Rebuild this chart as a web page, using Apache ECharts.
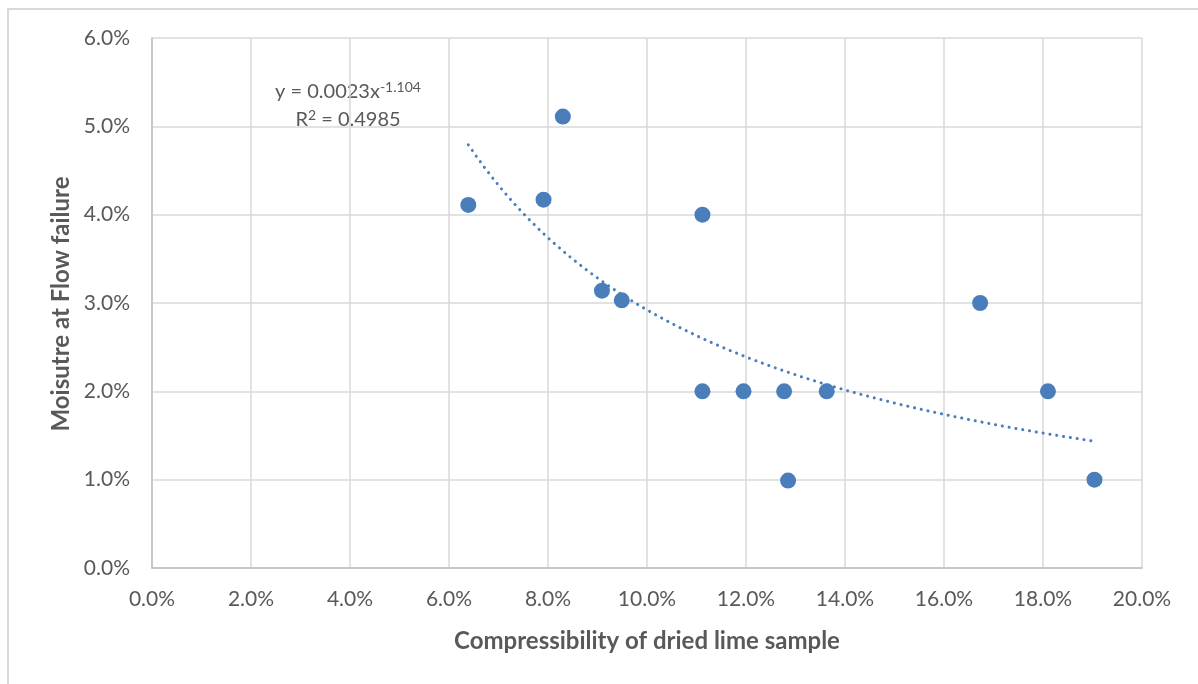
<!DOCTYPE html>
<html>
<head>
<meta charset="utf-8">
<script src="https://cdn.jsdelivr.net/npm/echarts@6/dist/echarts.min.js"></script>
<style>
html,body{margin:0;padding:0;background:#fff;}
#chart{width:1198px;height:684px;}
</style>
</head>
<body>
<div id="chart"></div>
<script>
// Data (percent units)
const compressibility = [6.39, 7.91, 8.30, 9.09, 9.49, 11.12, 11.12, 11.95, 12.77, 12.85, 13.63, 16.73, 18.10, 19.04];
const moisture        = [4.11, 4.17, 5.11, 3.14, 3.03, 4.00, 2.00, 2.00, 2.00, 0.99, 2.00, 3.00, 2.00, 1.00];
const xTicks = [0, 2, 4, 6, 8, 10, 12, 14, 16, 18, 20];
const yTicks = [0, 1, 2, 3, 4, 5, 6];
const xTitle = 'Compressibility of dried lime sample';
const yTitle = 'Moisutre at Flow failure';
const trendCoef = 0.0023;   // from chart's trendline equation
const trendExp = -1.104;
const trendText = ['y = 0.0023x', '-1.104', 'R', '2', ' = 0.4985'];

const points = compressibility.map((x, i) => [x, moisture[i]]);
const xMin = Math.min(...compressibility), xMax = Math.max(...compressibility);
const trend = [];
const N = 80;
for (let i = 0; i <= N; i++) {
  const x = xMin + (xMax - xMin) * i / N;
  trend.push([x, trendCoef * Math.pow(x / 100, trendExp) * 100]);
}

const FONT = 'Lato';
const GREY = '#595959';
const BLUE = '#4A7EBB';

const chart = echarts.init(document.getElementById('chart'), null, {renderer: 'canvas'});
chart.setOption({
  backgroundColor: '#fff',
  animation: false,
  textStyle: {fontFamily: FONT},
  grid: {left: 152, right: 56, top: 38, bottom: 116, containLabel: false},
  xAxis: {
    type: 'value', min: xTicks[0], max: xTicks[xTicks.length - 1], interval: 2,
    name: xTitle,
    nameLocation: 'middle', nameGap: 61,
    nameTextStyle: {fontFamily: FONT, fontSize: 24, fontWeight: 'bold', color: GREY},
    axisLine: {show: true, lineStyle: {color: '#BFBFBF', width: 1.5}},
    axisTick: {show: false},
    axisLabel: {margin: 21, fontSize: 21, color: GREY, fontFamily: FONT,
      formatter: v => v.toFixed(1) + '%'},
    splitLine: {show: true, lineStyle: {color: '#D9D9D9', width: 1.5}}
  },
  yAxis: {
    type: 'value', min: yTicks[0], max: yTicks[yTicks.length - 1], interval: 1,
    axisLine: {show: true, lineStyle: {color: '#BFBFBF', width: 1.5}},
    axisTick: {show: false},
    axisLabel: {margin: 22, fontSize: 21, color: GREY, fontFamily: FONT,
      formatter: v => v.toFixed(1) + '%'},
    splitLine: {show: true, lineStyle: {color: '#D9D9D9', width: 1.5}}
  },
  graphic: [
    {type: 'rect', shape: {x: 8, y: 9, width: 1300, height: 800},
     style: {fill: 'none', stroke: '#D9D9D9', lineWidth: 2}, silent: true, z: -1},
    {type: 'text', x: 61, y: 304, rotation: Math.PI / 2,
     style: {text: yTitle, align: 'center', verticalAlign: 'middle', fill: GREY,
       fontFamily: FONT, fontSize: 24, fontWeight: 'bold'}},
    {type: 'text', x: 348, y: 78,
     style: {
       text: '{a|' + trendText[0] + '}{s|' + trendText[1] + '}\n{a|' + trendText[2] + '}{s|' + trendText[3] + '}{a|' + trendText[4] + '}',
       align: 'center',
       verticalAlign: 'top',
       fill: GREY,
       rich: {
         a: {fontFamily: FONT, fontSize: 20, fill: GREY, color: GREY, lineHeight: 28},
         s: {fontFamily: FONT, fontSize: 14, fill: GREY, color: GREY, lineHeight: 28, padding: [0,0,10,0]}
       }
     }}
  ],
  series: [
    {
      type: 'line', data: trend, showSymbol: false, symbol: 'none', smooth: false,
      lineStyle: {color: BLUE, width: 3, type: [0.1, 6.8], cap: 'round'},
      z: 1, silent: true
    },
    {
      type: 'scatter', data: points, symbol: 'circle', symbolSize: 16,
      itemStyle: {color: BLUE, opacity: 1}, z: 2
    }
  ]
});
</script>
</body>
</html>
